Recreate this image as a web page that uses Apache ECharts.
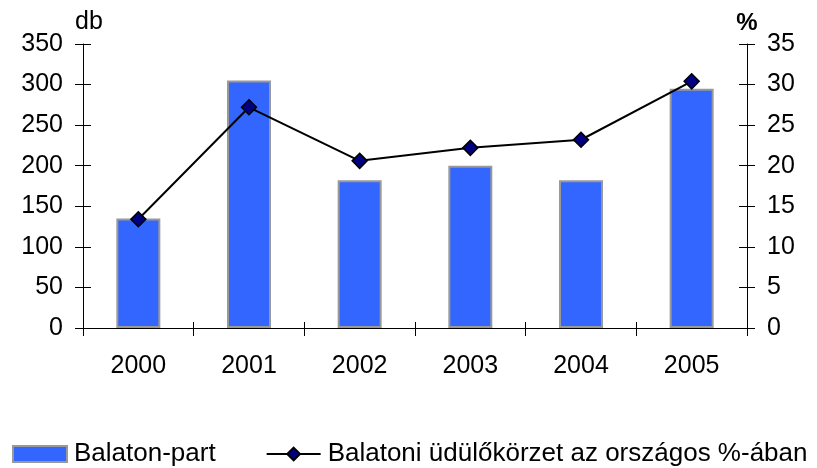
<!DOCTYPE html>
<html>
<head>
<meta charset="utf-8">
<script src="https://cdn.jsdelivr.net/npm/echarts@6/dist/echarts.min.js"></script>
<style>
  html, body { margin: 0; padding: 0; background: #fff; }
  #main { width: 817px; height: 468px; }
</style>
</head>
<body>
<div id="main"></div>
<script>
// 数据
var years = ['2000', '2001', '2002', '2003', '2004', '2005'];
var barName = 'Balaton-part';
var barValues = [135, 305, 182, 200, 182, 295];
var lineName = 'Balatoni üdülőkörzet az országos %-ában';
var lineValues = [13.4, 27.2, 20.6, 22.2, 23.2, 30.4];
var leftTicks = { min: 0, max: 350, interval: 50 };
var rightTicks = { min: 0, max: 35, interval: 5 };

var font = 'Liberation Sans, Arial, sans-serif';
var axisLine = { show: true, lineStyle: { color: '#000', width: 1 } };

var chart = echarts.init(document.getElementById('main'));

// 一个可见的轴 + 一个只画内侧刻度的轴，做出穿过轴线的刻度
function valueAxis(pos, ticks, name, nameStyle, inside) {
  return {
    type: 'value',
    position: pos,
    min: ticks.min,
    max: ticks.max,
    interval: ticks.interval,
    name: inside ? '' : name,
    nameLocation: 'end',
    nameGap: 9,
    nameTextStyle: nameStyle,
    axisLine: inside ? { show: false } : axisLine,
    axisTick: { show: true, inside: inside, length: 8, lineStyle: { color: '#000' } },
    axisLabel: {
      show: !inside,
      margin: 20,
      fontSize: 25,
      color: '#000',
      fontFamily: font
    },
    splitLine: { show: false }
  };
}

var option = {
  animation: false,
  backgroundColor: '#fff',
  textStyle: { fontFamily: font },
  grid: { left: 83, right: 70, top: 44, bottom: 140, containLabel: false },
  legend: {
    left: 12,
    top: 441,
    width: 805,
    padding: 0,
    itemWidth: 54,
    itemHeight: 16,
    itemGap: 50,
    textStyle: { fontSize: 26, color: '#000', fontFamily: font, padding: [0, 0, 0, 2] },
    data: [{ name: barName, icon: 'rect' }, { name: lineName }]
  },
  xAxis: [{
    type: 'category',
    position: 'bottom',
    data: years,
    axisLine: axisLine,
    axisTick: { show: true, length: 8, lineStyle: { color: '#000' } },
    axisLabel: { margin: 26, fontSize: 25, color: '#000', fontFamily: font }
  }, {
    type: 'category',
    position: 'bottom',
    data: years,
    axisLine: { show: false },
    axisTick: { show: true, inside: true, length: 6, lineStyle: { color: '#000' } },
    axisLabel: { show: false }
  }],
  yAxis: [
    valueAxis('left', leftTicks, 'db',
      { fontSize: 25, color: '#000', fontFamily: font, align: 'left', padding: [0, 0, 0, -8] }, false),
    valueAxis('right', rightTicks, '%',
      { fontSize: 24, fontWeight: 'bold', color: '#000', fontFamily: font }, false),
    valueAxis('left', leftTicks, '', {}, true),
    valueAxis('right', rightTicks, '', {}, true)
  ],
  series: [{
    name: barName,
    type: 'bar',
    xAxisIndex: 0,
    yAxisIndex: 0,
    barWidth: 44,
    data: barValues,
    itemStyle: { color: '#3366FF', borderColor: '#999999', borderWidth: 2 }
  }, {
    name: lineName,
    type: 'line',
    xAxisIndex: 0,
    yAxisIndex: 1,
    data: lineValues,
    symbol: 'diamond',
    symbolSize: 15,
    lineStyle: { color: '#000', width: 2 },
    itemStyle: { color: '#000080', borderColor: '#000', borderWidth: 1.5 },
    z: 5
  }]
};

chart.setOption(option);
</script>
</body>
</html>
